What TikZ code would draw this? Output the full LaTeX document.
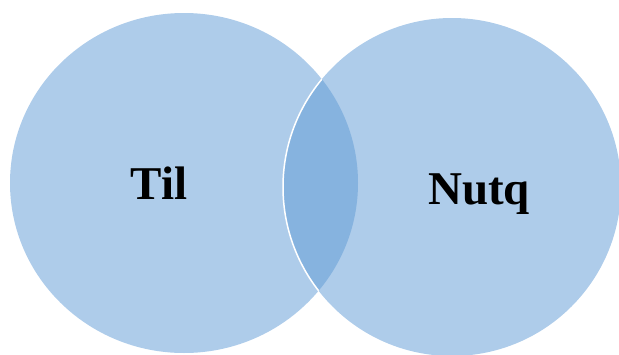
\documentclass[tikz,border=0pt]{standalone}
\usepackage{fontspec}
\setmainfont{Liberation Serif}
\definecolor{setblue}{RGB}{174,204,234}
\definecolor{overlapblue}{RGB}{134,179,223}

\begin{document}
\begin{tikzpicture}[x=1pt, y=-1pt,
    setname/.style={font=\fontsize{47}{56}\selectfont\bfseries, inner sep=0pt, anchor=base}]
    \useasboundingbox (0,0) rectangle (619,354);
    % 两个集合的中心
    \coordinate (cl) at (184,183);
    \coordinate (cr) at (452,187);
    % 两个椭圆
    \fill[setblue] (cl) ellipse [x radius=174pt, y radius=170pt];
    \fill[setblue] (cr) ellipse [x radius=169pt, y radius=169pt];
    % 交集部分
    \begin{scope}
      \clip (cl) ellipse [x radius=174pt, y radius=170pt];
      \fill[overlapblue] (cr) ellipse [x radius=169pt, y radius=169pt];
      \draw[white, line width=1.5pt] (cr) ellipse [x radius=169pt, y radius=169pt];
    \end{scope}
    % 文字
    \node[setname] (til) at (159,199) {Til};
    \node[setname] (nutq) at (479,204) {Nutq};
  \end{tikzpicture}
\end{document}
